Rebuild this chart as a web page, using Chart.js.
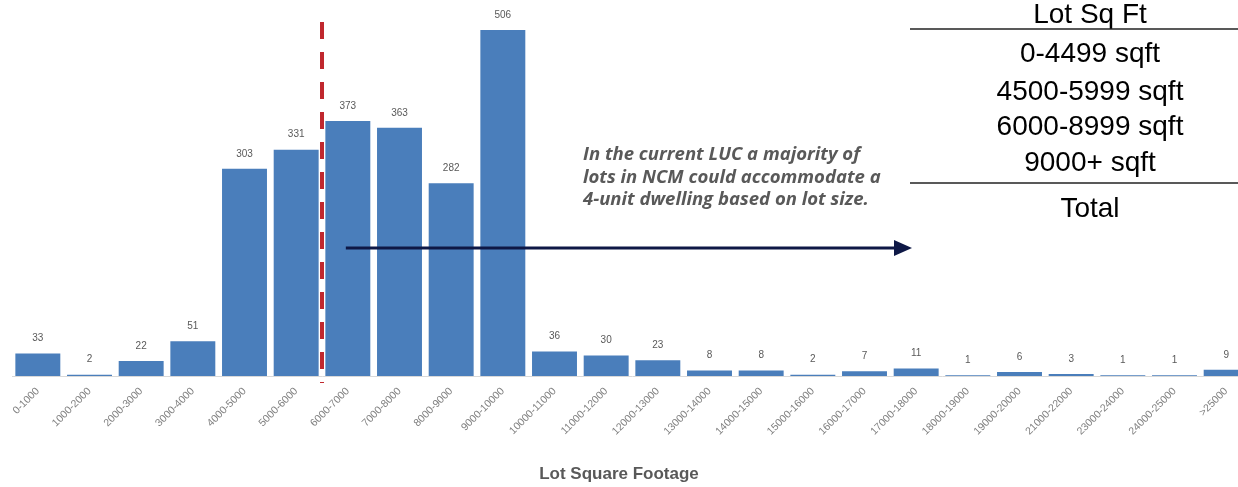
<!DOCTYPE html>
<html>
<head>
<meta charset="utf-8">
<script src="https://cdn.jsdelivr.net/npm/chart.js@4"></script>
<style>
    html, body { margin: 0; padding: 0; background: #fff; overflow: hidden; }
    #wrap { width: 1238px; height: 487px; overflow: hidden; position: relative; }
</style>
</head>
<body>
<div id="wrap"><canvas id="lots" width="1260" height="487"></canvas></div>
<script>
/*
    lot size histogram
    bars per 1000 sqft bin, cut line at 6000, note + arrow pointing to the table
*/
const sizeBins = ["0-1000", "1000-2000", "2000-3000", "3000-4000", "4000-5000", "5000-6000",
    "6000-7000", "7000-8000", "8000-9000", "9000-10000", "10000-11000", "11000-12000",
    "12000-13000", "13000-14000", "14000-15000", "15000-16000", "16000-17000", "17000-18000",
    "18000-19000", "19000-20000", "21000-22000", "23000-24000", "24000-25000", ">25000"];
const lotCounts = [33, 2, 22, 51, 303, 331, 373, 363, 282, 506, 36, 30, 23, 8, 8, 2, 7, 11, 1, 6, 3, 1, 1, 9];
const tableHead = "Lot Sq Ft";
const tableRows = ["0-4499 sqft", "4500-5999 sqft", "6000-8999 sqft", "9000+ sqft"];
const tableFoot = "Total";
const noteLines = ["In the current LUC a majority of",
    "lots in NCM could accommodate a",
    "4-unit dwelling based on lot size."];
const axisTitle = "Lot Square Footage";

const SANS = '"Liberation Sans", Arial, sans-serif';

// value labels, cut line, note, arrow and the side table
const annotate = {
    id: 'annotate',
    afterDatasetsDraw(chart) {
        const ctx = chart.ctx;
        const xs = chart.scales.x;
        const area = chart.chartArea;
        const meta = chart.getDatasetMeta(0);
        ctx.save();

        // numbers above bars
        ctx.font = '10px ' + SANS;
        ctx.fillStyle = '#595959';
        ctx.textAlign = 'center';
        ctx.textBaseline = 'middle';
        meta.data.forEach((bar, i) => ctx.fillText(String(lotCounts[i]), bar.x, bar.y - 15));

        // red dashed line between 5000-6000 and 6000-7000
        const cut = (xs.getPixelForValue(5) + xs.getPixelForValue(6)) / 2;
        ctx.strokeStyle = '#C0282E';
        ctx.lineWidth = 4;
        ctx.setLineDash([17, 13]);
        ctx.beginPath();
        ctx.moveTo(cut, 22);
        ctx.lineTo(cut, area.bottom + 7);
        ctx.stroke();
        ctx.setLineDash([]);

        // arrow
        const ax = xs.getPixelForValue(6) - 2, ay = 248;
        ctx.strokeStyle = '#0E1846';
        ctx.fillStyle = '#0E1846';
        ctx.lineWidth = 3;
        ctx.beginPath();
        ctx.moveTo(ax, ay);
        ctx.lineTo(896, ay);
        ctx.stroke();
        ctx.beginPath();
        ctx.moveTo(894, ay - 8);
        ctx.lineTo(912, ay);
        ctx.lineTo(894, ay + 8);
        ctx.closePath();
        ctx.fill();

        // note text, sized so the longest line spans ~298px like the original
        ctx.font = 'italic bold 20px "Open Sans", sans-serif';
        const w = Math.max(...noteLines.map(t => ctx.measureText(t).width));
        const fs = 20 * 298 / w;
        ctx.font = 'italic bold ' + fs.toFixed(2) + 'px "Open Sans", sans-serif';
        ctx.fillStyle = '#595959';
        ctx.textAlign = 'left';
        ctx.textBaseline = 'alphabetic';
        noteLines.forEach((t, i) => ctx.fillText(t, 583, 160 + i * 22.5));

        // side table
        ctx.font = '28px ' + SANS;
        ctx.fillStyle = '#000';
        ctx.textAlign = 'center';
        const tx = 1090;
        ctx.fillText(tableHead, tx, 23);
        const rowY = [62, 99.5, 134.5, 170.5];
        tableRows.forEach((t, i) => ctx.fillText(t, tx, rowY[i]));
        ctx.fillText(tableFoot, tx, 217);
        ctx.strokeStyle = '#222';
        ctx.lineWidth = 1.5;
        [29, 183].forEach(y => {
            ctx.beginPath();
            ctx.moveTo(910, y);
            ctx.lineTo(1260, y);
            ctx.stroke();
        });

        // axis title
        ctx.font = 'bold 17px ' + SANS;
        ctx.fillStyle = '#595959';
        ctx.textBaseline = 'middle';
        ctx.fillText(axisTitle, 619, 474);
        ctx.restore();
    }
};

const lotChart = new Chart("lots", {
    type: "bar",
    data: {
        labels: sizeBins,
        datasets: [{
            data: lotCounts,
            backgroundColor: "#4A7EBB",
            borderWidth: 0,
            barPercentage: 0.87,
            categoryPercentage: 1.0
        }]
    },
    options: {
        responsive: false,
        animation: false,
        devicePixelRatio: 1,
        layout: { padding: { left: 12, right: 8, top: 0, bottom: 0 } },
        plugins: {
            legend: { display: false },
            tooltip: { enabled: false }
        },
        scales: {
            x: {
                grid: { display: false, drawTicks: false },
                border: { display: true, color: '#D9D9D9' },
                ticks: {
                    minRotation: 45,
                    maxRotation: 45,
                    autoSkip: false,
                    padding: 9,
                    color: '#808080',
                    font: { size: 10.5, family: SANS }
                },
                afterFit: s => {
                    s.paddingLeft = 0;
                    s.paddingRight = 0;
                    s.height = 111;
                }
            },
            y: { display: false, min: 0, max: 550 }
        }
    },
    plugins: [annotate]
});
</script>
</body>
</html>
